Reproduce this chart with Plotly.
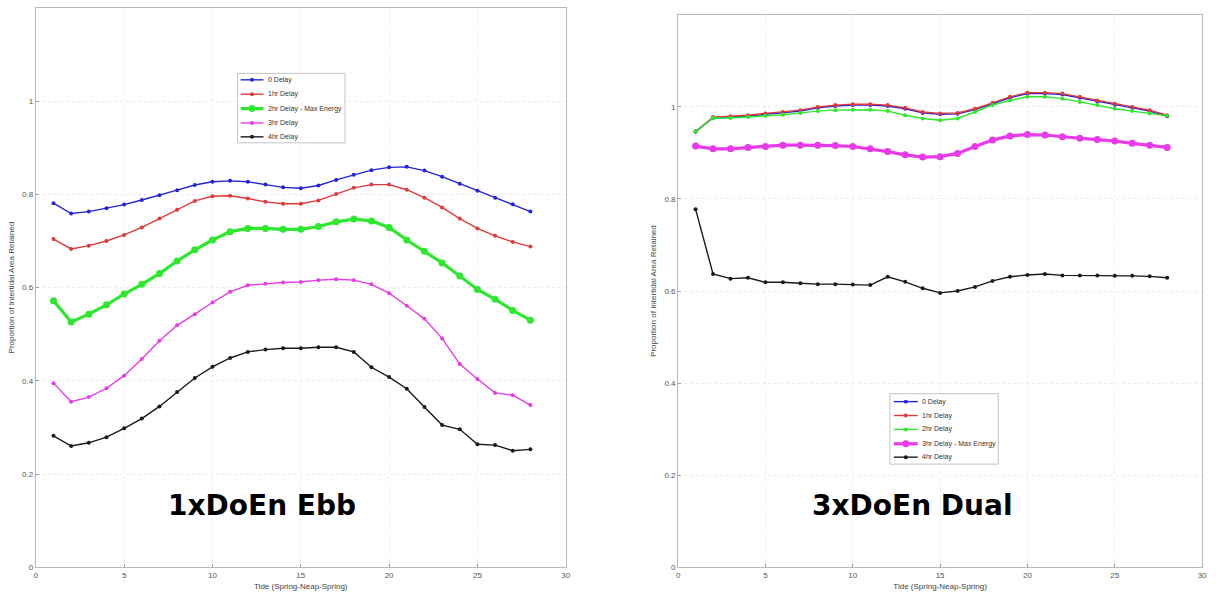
import plotly.graph_objects as go

# Tide index across the spring-neap-spring cycle
tide = list(range(1, 29))

# --- 1xDoEn Ebb ---
ebb_0hr = [0.781, 0.759, 0.763, 0.770, 0.778, 0.788, 0.798, 0.809, 0.820, 0.827, 0.829, 0.827,
           0.821, 0.815, 0.813, 0.819, 0.831, 0.842, 0.852, 0.858, 0.859, 0.851, 0.838, 0.823,
           0.808, 0.793, 0.779, 0.763]
ebb_1hr = [0.704, 0.683, 0.690, 0.700, 0.713, 0.729, 0.748, 0.767, 0.786, 0.796, 0.797, 0.791,
           0.784, 0.780, 0.780, 0.787, 0.801, 0.814, 0.821, 0.821, 0.810, 0.793, 0.772, 0.748,
           0.727, 0.711, 0.698, 0.688]
ebb_2hr = [0.572, 0.526, 0.543, 0.563, 0.586, 0.607, 0.630, 0.657, 0.681, 0.702, 0.720, 0.727,
           0.727, 0.725, 0.725, 0.731, 0.741, 0.747, 0.743, 0.729, 0.702, 0.678, 0.653, 0.625,
           0.596, 0.575, 0.551, 0.530]
ebb_3hr = [0.395, 0.355, 0.365, 0.384, 0.411, 0.447, 0.486, 0.519, 0.543, 0.568, 0.591, 0.605,
           0.608, 0.611, 0.612, 0.616, 0.618, 0.616, 0.607, 0.588, 0.561, 0.533, 0.491, 0.436,
           0.404, 0.374, 0.369, 0.348]
ebb_4hr = [0.282, 0.260, 0.267, 0.279, 0.298, 0.319, 0.345, 0.376, 0.406, 0.430, 0.449, 0.462,
           0.467, 0.470, 0.470, 0.472, 0.472, 0.462, 0.429, 0.408, 0.383, 0.344, 0.305, 0.296,
           0.264, 0.262, 0.250, 0.253]

# --- 3xDoEn Dual ---
dual_0hr = [0.946, 0.976, 0.978, 0.980, 0.984, 0.987, 0.991, 0.998, 1.002, 1.004, 1.004, 1.002,
            0.996, 0.987, 0.984, 0.985, 0.994, 1.007, 1.020, 1.029, 1.029, 1.027, 1.020, 1.012,
            1.005, 0.998, 0.991, 0.980]
dual_1hr = [0.947, 0.978, 0.980, 0.982, 0.986, 0.989, 0.993, 1.000, 1.004, 1.006, 1.006, 1.004,
            0.998, 0.989, 0.986, 0.987, 0.996, 1.009, 1.022, 1.031, 1.031, 1.029, 1.022, 1.014,
            1.007, 1.000, 0.993, 0.982]
dual_2hr = [0.947, 0.976, 0.976, 0.978, 0.981, 0.983, 0.987, 0.991, 0.993, 0.994, 0.994, 0.991,
            0.982, 0.975, 0.971, 0.975, 0.989, 1.004, 1.014, 1.022, 1.022, 1.018, 1.011, 1.004,
            0.996, 0.991, 0.986, 0.981]
dual_3hr = [0.915, 0.909, 0.909, 0.912, 0.914, 0.917, 0.917, 0.917, 0.916, 0.914, 0.909, 0.903,
            0.896, 0.891, 0.892, 0.899, 0.914, 0.928, 0.937, 0.940, 0.939, 0.935, 0.932, 0.929,
            0.926, 0.921, 0.917, 0.912]
dual_4hr = [0.778, 0.637, 0.627, 0.629, 0.619, 0.619, 0.617, 0.615, 0.615, 0.614, 0.613, 0.631,
            0.620, 0.606, 0.596, 0.600, 0.609, 0.622, 0.631, 0.635, 0.637, 0.634, 0.634, 0.634,
            0.633, 0.633, 0.632, 0.629]

ebb_names = ["0 Delay", "1hr Delay", "2hr Delay - Max Energy", "3hr Delay", "4hr Delay"]
dual_names = ["0 Delay", "1hr Delay", "2hr Delay", "3hr Delay - Max Energy", "4hr Delay"]

colors = ["#2424d8", "#e23a3a", "#2ee82e", "#e83ae8", "#1a1a1a"]

W, H = 1224, 601


def px(x):
    return x / W


def py(y):
    return 1 - y / H


fig = go.Figure()


def line_style(thick):
    return dict(width=3.2 if thick else 1.4), (7 if thick else 4)


def add_series(values, name, color, thick, xa, ya):
    lw, ms = line_style(thick)
    fig.add_trace(go.Scatter(
        x=tide, y=values, name=name, mode="lines+markers",
        line=dict(color=color, **lw),
        marker=dict(color=color, size=ms, symbol="circle"),
        xaxis=xa, yaxis=ya, showlegend=False,
    ))


ebb_series = [ebb_0hr, ebb_1hr, ebb_2hr, ebb_3hr, ebb_4hr]
dual_series = [dual_0hr, dual_1hr, dual_2hr, dual_3hr, dual_4hr]
EBB_THICK, DUAL_THICK = 2, 3

for i, (vals, nm) in enumerate(zip(ebb_series, ebb_names)):
    add_series(vals, nm, colors[i], i == EBB_THICK, "x", "y")
for i, (vals, nm) in enumerate(zip(dual_series, dual_names)):
    add_series(vals, nm, colors[i], i == DUAL_THICK, "x2", "y2")


# Compact boxed key drawn with shapes and text
def draw_key(box, row_y, sample_x, text_x, names, thick_idx):
    x0, y0, x1, y1 = box
    fig.add_shape(type="rect", xref="paper", yref="paper",
                  x0=px(x0), x1=px(x1), y0=py(y1), y1=py(y0),
                  line=dict(color="#c4c4c4", width=1), fillcolor="white", layer="above")
    for i, (nm, yy) in enumerate(zip(names, row_y)):
        thick = i == thick_idx
        lw, ms = line_style(thick)
        fig.add_shape(type="line", xref="paper", yref="paper",
                      x0=px(sample_x[0]), x1=px(sample_x[1]), y0=py(yy), y1=py(yy),
                      line=dict(color=colors[i], **lw), layer="above")
        cx = (sample_x[0] + sample_x[1]) / 2
        r = ms / 2
        fig.add_shape(type="circle", xref="paper", yref="paper",
                      x0=px(cx - r), x1=px(cx + r), y0=py(yy + r), y1=py(yy - r),
                      line=dict(color=colors[i], width=0), fillcolor=colors[i], layer="above")
        fig.add_annotation(x=px(text_x), y=py(yy), xref="paper", yref="paper",
                           text=nm, showarrow=False, xanchor="left", yanchor="middle",
                           font=dict(family="Liberation Sans", size=7, color="#333333"))


draw_key((237, 74, 345, 144), [80.5, 95, 109.5, 124, 138], (240, 263), 266, ebb_names, EBB_THICK)
draw_key((893, 397, 1002, 468), [405, 419, 433, 447.5, 461], (897, 921), 923, dual_names, DUAL_THICK)

axis_common = dict(
    showline=True, linecolor="#b8b8b8", linewidth=1, mirror=True,
    ticks="inside", ticklen=3, tickcolor="#999999",
    tickfont=dict(family="Liberation Sans", size=8, color="#555555"),
    showgrid=True, gridcolor="#ececec", griddash="dot", gridwidth=1,
    zeroline=False,
)

x_ticks = [0, 5, 10, 15, 20, 25, 30]
y_ticks = [0, 0.2, 0.4, 0.6, 0.8, 1]
y_labels = ["0", "0.2", "0.4", "0.6", "0.8", "1"]

xtitle = dict(text="Tide (Spring-Neap-Spring)",
              font=dict(family="Liberation Sans", size=8, color="#444444"), standoff=4)
ytitle = dict(text="Proportion of Intertidal Area Retained",
              font=dict(family="Liberation Sans", size=8, color="#444444"), standoff=6)

fig.update_layout(
    width=W, height=H,
    margin=dict(l=0, r=0, t=0, b=0),
    paper_bgcolor="white", plot_bgcolor="white",
    showlegend=False,
    xaxis=dict(domain=[px(34), px(567)], range=[0, 30], tickvals=x_ticks,
               anchor="y", title=xtitle, **axis_common),
    yaxis=dict(domain=[py(572), py(8)], range=[0, 1.2], tickvals=y_ticks,
               ticktext=y_labels, anchor="x", title=ytitle, **axis_common),
    xaxis2=dict(domain=[px(680), px(1207)], range=[0, 30], tickvals=x_ticks,
                anchor="y2", title=xtitle, **axis_common),
    yaxis2=dict(domain=[py(572), py(15)], range=[0, 1.2], tickvals=y_ticks,
                ticktext=y_labels, anchor="x2", title=ytitle, **axis_common),
)

fig.add_annotation(x=px(261), y=py(510), xref="paper", yref="paper",
                   xanchor="center", yanchor="middle",
                   text="<b>1xDoEn Ebb</b>", showarrow=False,
                   font=dict(family="DejaVu Sans", size=28, color="black"))
fig.add_annotation(x=px(916), y=py(510), xref="paper", yref="paper",
                   xanchor="center", yanchor="middle",
                   text="<b>3xDoEn Dual</b>", showarrow=False,
                   font=dict(family="DejaVu Sans", size=28, color="black"))

fig.write_html("out.html")
